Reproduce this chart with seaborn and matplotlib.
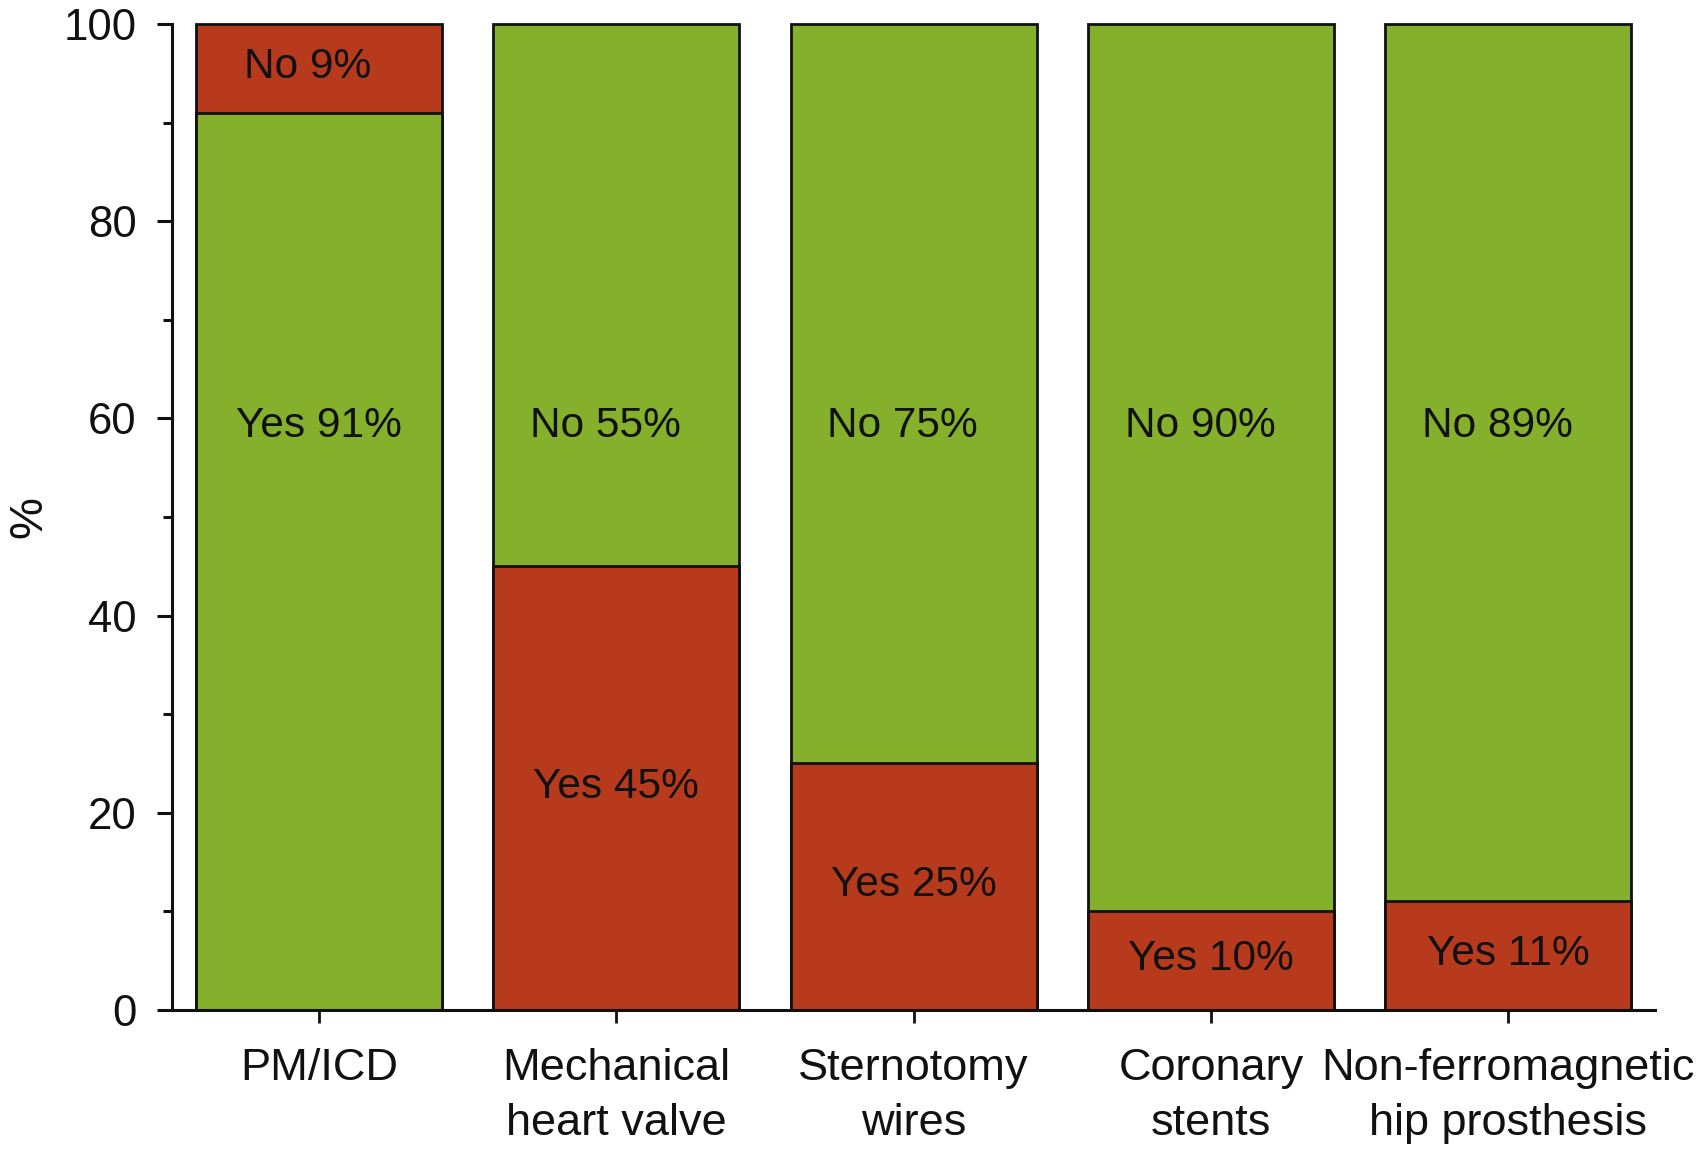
import numpy as np
import pandas as pd
import seaborn as sns
import matplotlib.pyplot as plt

# Data
devices = ['PM/ICD', 'Mechanical\nheart valve', 'Sternotomy\nwires',
           'Coronary\nstents', 'Non-ferromagnetic\nhip prosthesis']
yes_pct = [91, 45, 25, 10, 11]
no_pct = [9, 55, 75, 90, 89]

green = '#84B02C'
red = '#B83A1C'
# "Yes" is the safe answer only for PM/ICD
yes_colors = [green, red, red, red, red]
no_colors = [red, green, green, green, green]

df = pd.DataFrame({'device': devices, 'yes': yes_pct, 'no': no_pct})
df['total'] = df['yes'] + df['no']

sns.set_style('ticks')
plt.rcParams['font.family'] = ['Liberation Sans', 'DejaVu Sans']

fig, ax = plt.subplots(figsize=(16.96, 11.57), dpi=100)
fig.subplots_adjust(left=0.1014, right=0.9758, top=0.9793, bottom=0.1271)

edge = '#111111'
# full bars (top segment colour), then the "Yes" part on top of them
sns.barplot(data=df, x='device', y='total', hue='device', palette=no_colors,
            width=0.827, edgecolor=edge, linewidth=2.0, errorbar=None,
            legend=False, saturation=1, ax=ax)
sns.barplot(data=df, x='device', y='yes', hue='device', palette=yes_colors,
            width=0.827, edgecolor=edge, linewidth=2.0, errorbar=None,
            legend=False, saturation=1, ax=ax)
for p in ax.patches:
    p.set_clip_on(False)

# segment labels
for i, row in df.iterrows():
    for part, lo, hi, dx in [('Yes', 0, row['yes'], 0.0),
                             ('No', row['yes'], row['total'], -0.037)]:
        seg = hi - lo
        y = 59.7 if seg >= 50 else lo + seg / 2 + 0.6
        ax.text(i + dx, y, f"{part} {int(seg)}%", ha='center',
                va='center_baseline', fontsize=30.5, color='#111111')

ax.set_xlim(-0.494, 4.493)
ax.set_ylim(0, 100)
ax.set_yticks(np.arange(0, 101, 20))
ax.set_yticks(np.arange(10, 100, 20), minor=True)
ax.set_xlabel('')
ax.set_ylabel('%', fontsize=34, labelpad=9, color='#111111')

sns.despine(ax=ax)
for s in ['left', 'bottom']:
    ax.spines[s].set_linewidth(2.2)
    ax.spines[s].set_color(edge)

ax.tick_params(axis='y', which='major', length=10.5, width=2.2, pad=15,
               labelsize=31.5, colors=edge)
ax.tick_params(axis='y', which='minor', length=6.5, width=2.2, colors=edge)
ax.tick_params(axis='x', which='major', length=9.5, width=2.0, pad=18,
               labelsize=32.5, colors=edge)
for lbl in ax.get_xticklabels():
    lbl.set_linespacing(1.43)

fig.savefig('out.png', dpi=100)
